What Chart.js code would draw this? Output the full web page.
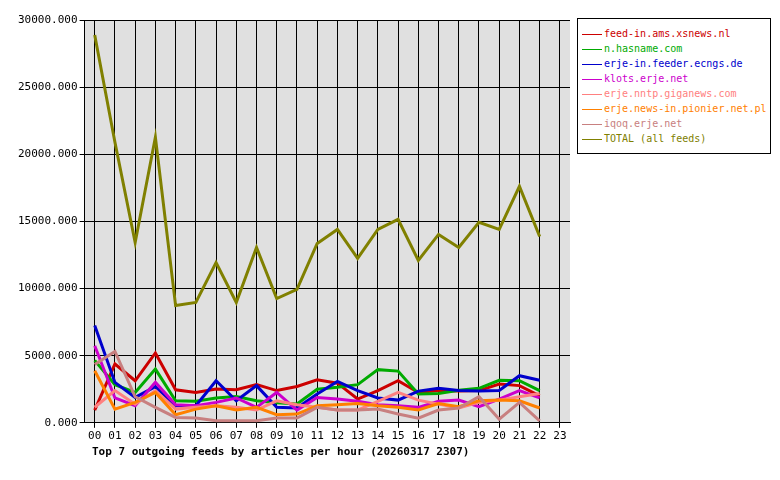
<!DOCTYPE html>
<html>
<head>
<meta charset="utf-8">
<script src="https://cdn.jsdelivr.net/npm/chart.js@4"></script>
<style>
  body { margin: 0; background: #fff; }
  #wrap { position: relative; width: 780px; height: 480px; }
  #legend { position: absolute; left: 577px; top: 18px; width: 194px; height: 136px; border: 1px solid #000; background: #fff;
            font: 10px "DejaVu Sans Mono", monospace; padding: 7px 0 4px 4px; box-sizing: border-box; }
  #legend div { height: 15px; line-height: 15px; white-space: nowrap; }
  #legend span.sw { display: inline-block; width: 20px; height: 1px; vertical-align: middle; margin-right: 2px; }
  #title { position: absolute; left: 92px; top: 445px; font: bold 11px "DejaVu Sans Mono", monospace; color: #000; }
</style>
</head>
<body>
<div id="wrap">
  <canvas id="chart" width="780" height="480"></canvas>
  <div id="legend"></div>
  <div id="title">Top 7 outgoing feeds by articles per hour (20260317 2307)</div>
</div>
<script>
const hours = ['00','01','02','03','04','05','06','07','08','09','10','11','12','13','14','15','16','17','18','19','20','21','22','23'];

const feedNames = ['feed-in.ams.xsnews.nl', 'n.hasname.com', 'erje-in.feeder.ecngs.de', 'klots.erje.net',
  'erje.nntp.giganews.com', 'erje.news-in.pionier.net.pl', 'iqoq.erje.net', 'TOTAL (all feeds)'];
const feedColors = ['#cc0000', '#00aa00', '#0000cc', '#cc00cc', '#ff8080', '#ff8000', '#c88080', '#808000'];

const xsnews   = [950, 4380, 3130, 5200, 2460, 2260, 2510, 2460, 2840, 2400, 2700, 3200, 2950, 1770, 2400, 3130, 2260, 2400, 2360, 2400, 2890, 2770, 2010];
const hasname  = [4650, 2840, 2260, 4000, 1640, 1600, 1850, 1950, 1640, 1500, 1400, 2500, 2640, 2840, 3960, 3850, 2140, 2180, 2420, 2570, 3170, 3130, 2400];
const ecngs    = [7240, 3010, 1890, 2690, 1270, 1270, 3130, 1640, 2770, 1150, 1100, 2140, 3080, 2400, 1850, 1690, 2360, 2570, 2400, 2360, 2400, 3510, 3170];
const klots    = [5740, 1850, 1270, 3010, 1340, 1270, 1520, 1850, 1150, 2260, 950, 1890, 1770, 1600, 1340, 1270, 1150, 1600, 1690, 1200, 1770, 2400, 1850];
const giganews = [1160, 2400, 1390, 2400, 1020, 1150, 1270, 1150, 950, 1640, 1340, 1150, 950, 950, 1600, 2260, 1690, 1390, 1100, 1520, 1690, 1940, 2180];
const pionier  = [3880, 1020, 1520, 2260, 600, 1020, 1270, 950, 1150, 600, 650, 1270, 1340, 1440, 1270, 1150, 950, 1440, 1200, 1640, 1690, 1640, 1100];
const iqoq     = [4350, 5320, 1940, 1150, 400, 350, 150, 150, 150, 350, 350, 1150, 950, 950, 1020, 650, 350, 950, 1100, 1940, 270, 1520, 150];
const total    = [28880, 20900, 13430, 21270, 8730, 8960, 11940, 8960, 13060, 9250, 9930, 13360, 14400, 12240, 14400, 15150, 12090, 14030, 13060, 14930, 14400, 17610, 13880];

const series = [xsnews, hasname, ecngs, klots, giganews, pionier, iqoq, total];

// legend box
const legendEl = document.getElementById('legend');
feedNames.forEach((name, i) => {
  const row = document.createElement('div');
  row.style.color = feedColors[i];
  row.innerHTML = '<span class="sw" style="background:' + feedColors[i] + '"></span>' + name;
  legendEl.appendChild(row);
});

// grey plot background
const plotBg = {
  id: 'plotBg',
  beforeDraw(chart) {
    const a = chart.chartArea, ctx = chart.ctx;
    ctx.save();
    ctx.fillStyle = '#e0e0e0';
    ctx.fillRect(a.left, a.top, a.right - a.left, a.bottom - a.top);
    ctx.restore();
  }
};

const mono = '"DejaVu Sans Mono", monospace';

new Chart(document.getElementById('chart').getContext('2d'), {
  type: 'line',
  data: {
    labels: hours,
    datasets: series.map((d, i) => ({
      label: feedNames[i],
      data: d,
      borderColor: feedColors[i],
      backgroundColor: feedColors[i],
      borderWidth: 3,
      pointRadius: 0,
      tension: 0,
      fill: false
    })).reverse()
  },
  options: {
    responsive: false,
    animation: false,
    layout: { padding: { left: 16, right: 210, top: 20, bottom: 35 } },
    plugins: {
      legend: { display: false },
      tooltip: { enabled: false }
    },
    scales: {
      x: {
        offset: true,
        grid: { offset: false, color: '#000', tickLength: 5, drawTicks: true },
        border: { color: '#000' },
        ticks: { color: '#000', font: { family: mono, size: 11 }, maxRotation: 0, autoSkip: false, padding: 2 }
      },
      y: {
        min: 0,
        max: 30000,
        grid: { color: '#000', tickLength: 5 },
        border: { color: '#000' },
        ticks: {
          stepSize: 5000,
          color: '#000',
          font: { family: mono, size: 11 },
          padding: 2,
          callback: v => v.toFixed(3)
        }
      }
    }
  },
  plugins: [plotBg]
});
</script>
</body>
</html>
